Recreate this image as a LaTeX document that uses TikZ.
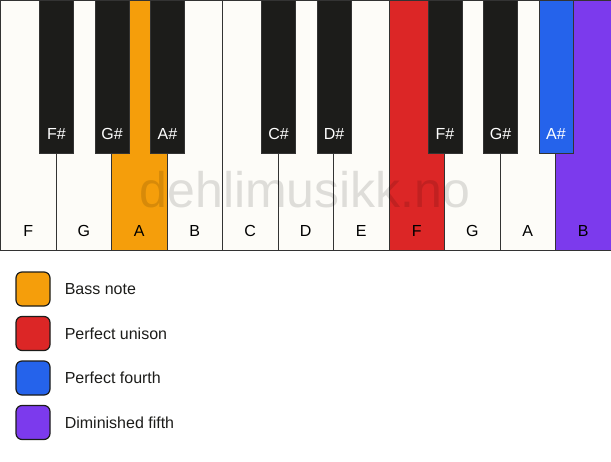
\documentclass[tikz,border=0pt]{standalone}
\usepackage{fontspec}
\setmainfont{Liberation Sans}
\usetikzlibrary{positioning}

\definecolor{ivory}{HTML}{FDFCF8}
\definecolor{ebony}{HTML}{1C1C1A}
\definecolor{keyline}{HTML}{333333}
\definecolor{bassnote}{HTML}{F59E0B}
\definecolor{unison}{HTML}{DC2626}
\definecolor{fourth}{HTML}{2563EB}
\definecolor{dimfifth}{HTML}{7C3AED}

\tikzstyle{whitekey} = [rectangle, anchor=north west, minimum width=55.5pt, minimum height=250pt, inner sep=0pt, draw=keyline, line width=1pt, fill=ivory]
\tikzstyle{blackkey} = [rectangle, anchor=north, minimum width=34pt, minimum height=153pt, inner sep=0pt, draw=keyline, line width=1pt, fill=ebony]
\tikzstyle{whitename} = [font=\fontsize{16}{18}\selectfont, text=black, inner sep=0pt]
\tikzstyle{blackname} = [font=\fontsize{16}{18}\selectfont, text=white, inner sep=0pt]
\tikzstyle{legendbox} = [rectangle, rounded corners=6pt, minimum width=34pt, minimum height=34pt, inner sep=0pt, draw=ebony, line width=1.2pt]
\tikzstyle{legendtext} = [font=\fontsize{16}{19}\selectfont, text=ebony, anchor=west, inner sep=0pt]

\begin{document}
\begin{tikzpicture}[x=1pt, y=-1pt]

	\useasboundingbox (0,0) rectangle (611,461);

	\node (F1) [whitekey] at (0,0) {};
	\node (G1) [whitekey] at (55.5,0) {};
	\node (A1) [whitekey, fill=bassnote] at (111,0) {};
	\node (B1) [whitekey] at (166.5,0) {};
	\node (C2) [whitekey] at (222,0) {};
	\node (D2) [whitekey] at (277.5,0) {};
	\node (E2) [whitekey] at (333,0) {};
	\node (F2) [whitekey, fill=unison] at (388.5,0) {};
	\node (G2) [whitekey] at (444,0) {};
	\node (A2) [whitekey] at (499.5,0) {};
	\node (B2) [whitekey, fill=dimfifth] at (555,0) {};

	\node (nF1) [whitename] at ([yshift=20pt]F1.south) {F};
	\node (nG1) [whitename] at ([yshift=20pt]G1.south) {G};
	\node (nA1) [whitename] at ([yshift=20pt]A1.south) {A};
	\node (nB1) [whitename] at ([yshift=20pt]B1.south) {B};
	\node (nC2) [whitename] at ([yshift=20pt]C2.south) {C};
	\node (nD2) [whitename] at ([yshift=20pt]D2.south) {D};
	\node (nE2) [whitename] at ([yshift=20pt]E2.south) {E};
	\node (nF2) [whitename] at ([yshift=20pt]F2.south) {F};
	\node (nG2) [whitename] at ([yshift=20pt]G2.south) {G};
	\node (nA2) [whitename] at ([yshift=20pt]A2.south) {A};
	\node (nB2) [whitename] at ([yshift=20pt]B2.south) {B};

	% watermark
	\node (mark) [font=\fontsize{50}{52}\selectfont, text=black, text opacity=0.12, anchor=base, inner sep=0pt] at (305,207) {dehlimusikk.no};

	\node (Fs1) [blackkey] at (F1.north east) {};
	\node (Gs1) [blackkey] at (G1.north east) {};
	\node (As1) [blackkey] at (A1.north east) {};
	\node (Cs2) [blackkey] at (C2.north east) {};
	\node (Ds2) [blackkey] at (D2.north east) {};
	\node (Fs2) [blackkey] at (F2.north east) {};
	\node (Gs2) [blackkey] at (G2.north east) {};
	\node (As2) [blackkey, fill=fourth] at (A2.north east) {};

	\node (nFs1) [blackname] at ([yshift=20pt]Fs1.south) {F\#};
	\node (nGs1) [blackname] at ([yshift=20pt]Gs1.south) {G\#};
	\node (nAs1) [blackname] at ([yshift=20pt]As1.south) {A\#};
	\node (nCs2) [blackname] at ([yshift=20pt]Cs2.south) {C\#};
	\node (nDs2) [blackname] at ([yshift=20pt]Ds2.south) {D\#};
	\node (nFs2) [blackname] at ([yshift=20pt]Fs2.south) {F\#};
	\node (nGs2) [blackname] at ([yshift=20pt]Gs2.south) {G\#};
	\node (nAs2) [blackname] at ([yshift=20pt]As2.south) {A\#};

	% legend
	\node (bass) [legendbox, fill=bassnote] at (33,289) {};
	\node (uni) [legendbox, fill=unison] at (33,333.5) {};
	\node (four) [legendbox, fill=fourth] at (33,378) {};
	\node (dim) [legendbox, fill=dimfifth] at (33,422.5) {};

	\node (tbass) [legendtext, right=14pt of bass] {Bass note};
	\node (tuni) [legendtext, right=14pt of uni] {Perfect unison};
	\node (tfour) [legendtext, right=14pt of four] {Perfect fourth};
	\node (tdim) [legendtext, right=14pt of dim] {Diminished fifth};

\end{tikzpicture}
\end{document}
